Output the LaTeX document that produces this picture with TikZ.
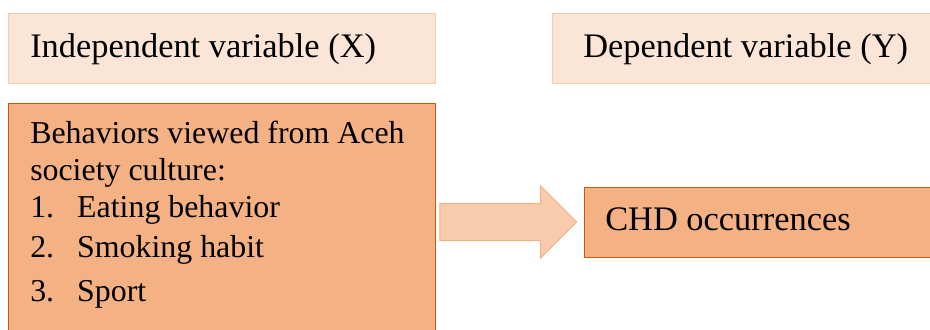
\documentclass[tikz,border=0pt]{standalone}
\usepackage{fontspec}
\setmainfont{Liberation Serif}
\usepackage{xcolor}
\usepackage{tikz}
\usetikzlibrary{shapes.arrows}
\usetikzlibrary{positioning}

\definecolor{headfill}{HTML}{FBE5D6}
\definecolor{headline}{HTML}{F8CBAD}
\definecolor{boxfill}{HTML}{F4B183}
\definecolor{boxline}{HTML}{C55A11}

\tikzset{
  headbox/.style={draw=headline, fill=headfill, line width=0.75pt, anchor=north west, inner sep=0pt, minimum height=52.5pt},
  varbox/.style={draw=boxline, fill=boxfill, line width=0.75pt, anchor=north west, inner sep=0pt},
  txt/.style={anchor=base west, inner sep=0pt, font=\fontsize{25.8pt}{30pt}\selectfont},
  boxtxt/.style={txt, font=\fontsize{23.9pt}{28pt}\selectfont},
  blockarrow/.style={single arrow, draw=boxfill, fill=headline, line width=0.75pt,
    inner xsep=0pt, inner ysep=13.5pt, minimum height=102.75pt, single arrow head extend=13.3pt}
}

\begin{document}
\begin{tikzpicture}[x=0.75pt,y=0.75pt,yscale=-1,xscale=1]
\useasboundingbox (0,0) rectangle (930,329);

%Header boxes
\node[headbox, minimum width=320.25pt] (xhead) at (8,13) {};
\node[headbox, minimum width=306pt] (yhead) at (552,13) {};
\node[txt] (xlabel) at (30,57) {Independent variable (X)};
\node[txt] (ylabel) at (583,57) {Dependent variable (Y)};

%Variable boxes
\node[varbox, minimum width=320.25pt, minimum height=187.5pt] (xbox) at (8,103) {};
\node[varbox, minimum width=282pt, minimum height=52.5pt] (chd) at (584,186.5) {};

%Box texts
\node[boxtxt] (line1) at (30,143) {Behaviors viewed from Aceh};
\node[boxtxt] (line2) at (30,180) {society culture:};
\node[boxtxt] (item1) at (30,217) {\makebox[35.25pt][l]{1.}Eating behavior};
\node[boxtxt] (item2) at (30,257) {\makebox[35.25pt][l]{2.}Smoking habit};
\node[boxtxt] (item3) at (30,301) {\makebox[35.25pt][l]{3.}Sport};
\node[txt] (chdlabel) at (605,230) {CHD occurrences};

%Arrow
\node[blockarrow, anchor=tip] (arr) at ([xshift=-4.9pt]chd.west) {};

\end{tikzpicture}
\end{document}
